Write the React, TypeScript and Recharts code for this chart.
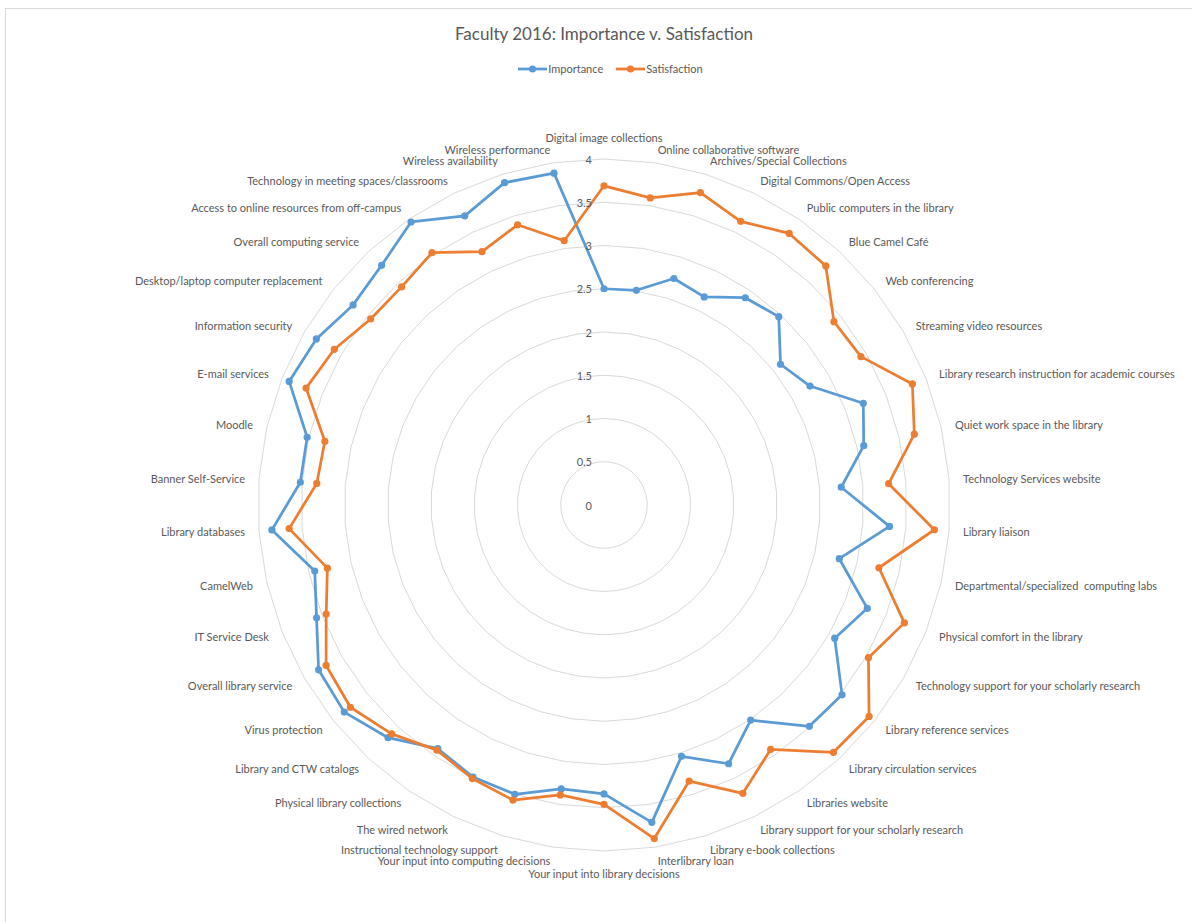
import { RadarChart, Radar, PolarGrid, PolarAngleAxis, PolarRadiusAxis } from "recharts";

document.body.style.margin = "0";

// survey items, clockwise from the top
const categories = [
  "Digital image collections",
  "Online collaborative software",
  "Archives/Special Collections",
  "Digital Commons/Open Access",
  "Public computers in the library",
  "Blue Camel Café",
  "Web conferencing",
  "Streaming video resources",
  "Library research instruction for academic courses",
  "Quiet work space in the library",
  "Technology Services website",
  "Library liaison",
  "Departmental/specialized  computing labs",
  "Physical comfort in the library",
  "Technology support for your scholarly research",
  "Library reference services",
  "Library circulation services",
  "Libraries website",
  "Library support for your scholarly research",
  "Library e-book collections",
  "Interlibrary loan",
  "Your input into library decisions",
  "Your input into computing decisions",
  "Instructional technology support",
  "The wired network",
  "Physical library collections",
  "Library and CTW catalogs",
  "Virus protection",
  "Overall library service",
  "IT Service Desk",
  "CamelWeb",
  "Library databases",
  "Banner Self-Service",
  "Moodle",
  "E-mail services",
  "Information security",
  "Desktop/laptop computer replacement",
  "Overall computing service",
  "Access to online resources from off-campus",
  "Technology in meeting spaces/classrooms",
  "Wireless availability",
  "Wireless performance",
];

const importance = [
  2.5, 2.51, 2.74, 2.67, 2.9, 2.97, 2.61, 2.75, 3.22, 3.08, 2.75, 3.31, 2.79, 3.27,
  3.08, 3.52, 3.49, 3.01, 3.32, 3.04, 3.71, 3.34, 3.32, 3.5, 3.49, 3.41, 3.67, 3.84,
  3.81, 3.57, 3.43, 3.85, 3.52, 3.52, 3.91, 3.84, 3.71, 3.78, 3.96, 3.71, 3.9, 3.88,
];

const satisfaction = [
  3.69, 3.59, 3.78, 3.64, 3.8, 3.77, 3.4, 3.43, 3.83, 3.68, 3.3, 3.83, 3.26, 3.73,
  3.53, 3.92, 3.9, 3.42, 3.7, 3.34, 3.9, 3.46, 3.39, 3.57, 3.51, 3.43, 3.61, 3.75,
  3.71, 3.45, 3.28, 3.65, 3.33, 3.31, 3.7, 3.6, 3.45, 3.44, 3.53, 3.25, 3.39, 3.09,
];

const radiusTicks = [0, 0.5, 1, 1.5, 2, 2.5, 3, 3.5, 4];

const data = categories.map((category, i) => ({
  category,
  importance: importance[i],
  satisfaction: satisfaction[i],
}));

const TEXT = "#595959";
const GRID = "#d9d9d9";
const BLUE = "#5B9BD5";
const ORANGE = "#ED7D31";
const FONT = "Lato, 'Open Sans', sans-serif";

// category labels: start/end anchored at the sides, pushed outward at top and bottom
const AngleTick = ({ x, y, payload, textAnchor }: any) => {
  const rad = (payload.coordinate * Math.PI) / 180;
  const dy = textAnchor === "middle" ? -Math.sin(rad) * 8 : 0;
  return (
    <text
      x={x}
      y={y + dy}
      textAnchor={textAnchor}
      dominantBaseline="central"
      fontSize={11}
      fill={TEXT}
      fontFamily={FONT}
      style={{ whiteSpace: "pre" }}
    >
      {payload.value}
    </text>
  );
};

const RadiusTick = ({ x, y, payload }: any) => (
  <text
    x={x - 12}
    y={y}
    textAnchor="end"
    dominantBaseline="central"
    fontSize={11}
    fill={TEXT}
    fontFamily={FONT}
  >
    {payload.value}
  </text>
);

// solid round markers
const markerFor = (color: string) => (props: any) => (
  <circle key={`dot-${props.index}`} cx={props.cx} cy={props.cy} r={3.6} fill={color} />
);

const LegendItem = ({ color, label }: { color: string; label: string }) => (
  <div style={{ display: "flex", alignItems: "center", marginRight: 13 }}>
    <svg width={29} height={10}>
      <line x1={0} y1={5} x2={29} y2={5} stroke={color} strokeWidth={2.75} />
      <circle cx={14.5} cy={5} r={3.6} fill={color} />
    </svg>
    <span style={{ marginLeft: 1 }}>{label}</span>
  </div>
);

export default function App() {
  return (
    <div
      style={{
        position: "relative",
        width: 1192,
        height: 922,
        overflow: "hidden",
        background: "#fff",
        fontFamily: FONT,
        color: TEXT,
      }}
    >
      <div
        style={{
          position: "absolute",
          left: 5,
          top: 8,
          width: 1300,
          height: 1000,
          border: `1px solid ${GRID}`,
        }}
      />
      <div
        style={{
          position: "absolute",
          top: 21,
          left: 0,
          width: 1208,
          textAlign: "center",
          fontSize: 17,
          lineHeight: "26px",
        }}
      >
        Faculty 2016: Importance v. Satisfaction
      </div>
      <div
        style={{
          position: "absolute",
          top: 61,
          left: 13,
          width: 1208,
          display: "flex",
          justifyContent: "center",
          fontSize: 11,
          lineHeight: "16px",
        }}
      >
        <LegendItem color={BLUE} label="Importance" />
        <LegendItem color={ORANGE} label="Satisfaction" />
      </div>
      <div style={{ position: "absolute", left: 0, top: 0 }}>
        <RadarChart
          width={1192}
          height={922}
          cx={604}
          cy={505}
          outerRadius={346}
          margin={{ top: 0, right: 0, bottom: 0, left: 0 }}
          data={data}
        >
          <PolarGrid gridType="polygon" radialLines={false} stroke={GRID} />
          <PolarAngleAxis
            dataKey="category"
            tickLine={false}
            axisLine={false}
            tickSize={14}
            tick={<AngleTick />}
          />
          <PolarRadiusAxis
            type="number"
            angle={90}
            domain={[0, 4]}
            ticks={radiusTicks}
            tickCount={9}
            axisLine={false}
            tickLine={false}
            tick={<RadiusTick />}
          />
          <Radar
            name="Importance"
            dataKey="importance"
            stroke={BLUE}
            strokeWidth={2.75}
            strokeLinejoin="round"
            fill="none"
            fillOpacity={0}
            dot={markerFor(BLUE)}
            isAnimationActive={false}
          />
          <Radar
            name="Satisfaction"
            dataKey="satisfaction"
            stroke={ORANGE}
            strokeWidth={2.75}
            strokeLinejoin="round"
            fill="none"
            fillOpacity={0}
            dot={markerFor(ORANGE)}
            isAnimationActive={false}
          />
        </RadarChart>
      </div>
    </div>
  );
}
